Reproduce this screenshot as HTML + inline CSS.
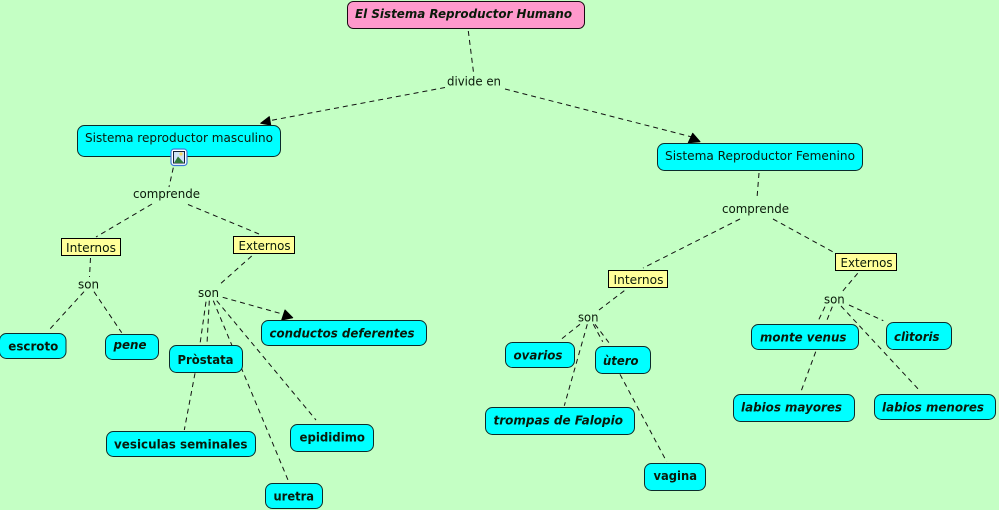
<!DOCTYPE html>
<html><head><meta charset="utf-8">
<style>
html,body{margin:0;padding:0;background:#c4ffc4;width:999px;height:510px;overflow:hidden}
svg{display:block}
text{font-family:"DejaVu Sans","Liberation Sans",sans-serif;font-size:12px;fill:#0a1a0a}
.b{font-weight:bold}
.i{font-weight:bold;font-style:italic}
.n{fill:#0ff;stroke:#0b2b2b;stroke-width:1}
.y{fill:#ffff99;stroke:#000;stroke-width:1}
.l{stroke:#111;stroke-width:1;stroke-dasharray:5 4;fill:none}
</style></head><body>
<svg width="999" height="510" viewBox="0 0 999 510" xmlns="http://www.w3.org/2000/svg">
<rect width="999" height="510" fill="#c4ffc4"/>
<!-- connectors -->
<g class="l">
<path d="M468.3 31L473.7 74"/>
<path d="M445 87.5L268 121"/>
<path d="M505 89L692 137"/>
<path d="M173.3 167.7L169 187"/>
<path d="M152 204L96 237"/>
<path d="M188 204.5L259 234"/>
<path d="M90.5 258L89.5 277"/>
<path d="M84 291.7L49 330"/>
<path d="M94 291.7L121.7 332.7"/>
<path d="M251.7 256L218.3 285.7"/>
<path d="M222.7 297.3L286 315"/>
<path d="M206 301.7L200 344"/>
<path d="M209.3 300.7L207 344"/>
<path d="M213.3 300.7L288.7 481.7"/>
<path d="M216.7 300.7L316 420"/>
<path d="M195 373.3L184.3 430"/>
<path d="M759 173L757 198"/>
<path d="M740 219L643 268"/>
<path d="M773 219L835 253"/>
<path d="M624.3 290.7L599 310"/>
<path d="M580 324.3L559.3 340.7"/>
<path d="M587.3 324.3L564.3 405.7"/>
<path d="M593.3 324.3L602.7 341.7"/>
<path d="M595 324.3L610.7 345"/>
<path d="M620 374.3L666.7 461.7"/>
<path d="M857.7 273.3L841.7 292.3"/>
<path d="M825 306.7L817.3 322.7"/>
<path d="M832.3 306.7L825.7 323.3"/>
<path d="M841 306L920.7 391.7"/>
<path d="M849 305L883.3 320.7"/>
<path d="M815.7 351.7L800.7 392.3"/>
</g>
<!-- arrowheads -->
<polygon points="260.7,123.3 269.3,116.7 270.7,125" fill="#000" stroke="#000" stroke-width="1" stroke-linejoin="round"/>
<polygon points="700,141.7 692.7,133.3 688.3,142.7" fill="#000" stroke="#000" stroke-width="1" stroke-linejoin="round"/>
<polygon points="281.7,320 285,310 292.7,317.7" fill="#000" stroke="#000" stroke-width="1" stroke-linejoin="round"/>
<!-- nodes -->
<rect x="347.5" y="1.5" width="237" height="27" rx="6" fill="#ff99cc" stroke="#1a0a12"/>
<text x="355" y="18" class="i" textLength="217" lengthAdjust="spacingAndGlyphs">El Sistema Reproductor Humano</text>

<rect class="n" x="77.5" y="125.5" width="203" height="31" rx="7"/>
<text x="85" y="142" textLength="188" lengthAdjust="spacingAndGlyphs">Sistema reproductor masculino</text>
<rect x="171" y="149" width="16" height="16.5" rx="3" fill="#fff" stroke="#3f78d8" stroke-width="1.2"/>
<rect x="173.5" y="151.5" width="11" height="11.5" fill="#cfe3f7" stroke="#12203a" stroke-width="1"/>
<circle cx="181" cy="154" r="1.6" fill="#f0d860"/>
<polygon points="174,163 178,156.5 184,163" fill="#2f7a3a"/>

<rect class="n" x="657.5" y="143.5" width="205" height="27" rx="7"/>
<text x="665" y="160" textLength="190" lengthAdjust="spacingAndGlyphs">Sistema Reproductor Femenino</text>

<rect class="y" x="61.5" y="238.5" width="59" height="17"/>
<text x="66" y="252" textLength="50" lengthAdjust="spacingAndGlyphs">Internos</text>
<rect class="y" x="233.5" y="236.5" width="61" height="17"/>
<text x="238.5" y="250" textLength="52" lengthAdjust="spacingAndGlyphs">Externos</text>
<rect class="y" x="608.5" y="270.5" width="59" height="17"/>
<text x="613.5" y="284" textLength="50" lengthAdjust="spacingAndGlyphs">Internos</text>
<rect class="y" x="835.5" y="253.5" width="61" height="17"/>
<text x="840.5" y="267" textLength="52" lengthAdjust="spacingAndGlyphs">Externos</text>

<rect class="n" x="-0.5" y="333.5" width="66.5" height="25" rx="7"/>
<text x="8.3" y="350.3" class="b" textLength="50" lengthAdjust="spacingAndGlyphs">escroto</text>
<rect class="n" x="105.5" y="334.5" width="53" height="25" rx="7"/>
<text x="113.5" y="349" class="i" textLength="33" lengthAdjust="spacingAndGlyphs">pene</text>
<rect class="n" x="169.5" y="345.5" width="73" height="27" rx="7"/>
<text x="177.5" y="364" class="b" textLength="56" lengthAdjust="spacingAndGlyphs">Pròstata</text>
<rect class="n" x="261.5" y="320.5" width="165" height="25" rx="7"/>
<text x="269.5" y="337.3" class="i" textLength="145" lengthAdjust="spacingAndGlyphs">conductos deferentes</text>
<rect class="n" x="106.5" y="431.5" width="149" height="25" rx="7"/>
<text x="114" y="448.3" class="b" textLength="133.5" lengthAdjust="spacingAndGlyphs">vesiculas seminales</text>
<rect class="n" x="290.5" y="424.5" width="83" height="27" rx="7"/>
<text x="299.5" y="441.3" class="b" textLength="65.5" lengthAdjust="spacingAndGlyphs">epididimo</text>
<rect class="n" x="265.5" y="483.5" width="57" height="25" rx="7"/>
<text x="273.5" y="500.7" class="b" textLength="40.5" lengthAdjust="spacingAndGlyphs">uretra</text>

<rect class="n" x="505.5" y="342.5" width="69" height="25" rx="7"/>
<text x="513.5" y="359.3" class="i" textLength="49" lengthAdjust="spacingAndGlyphs">ovarios</text>
<rect class="n" x="595.5" y="346.5" width="55" height="27" rx="7"/>
<text x="603" y="365" class="i" textLength="35.5" lengthAdjust="spacingAndGlyphs">ùtero</text>
<rect class="n" x="485.5" y="407.5" width="149" height="27" rx="7"/>
<text x="493.5" y="424.3" class="i" textLength="129.5" lengthAdjust="spacingAndGlyphs">trompas de Falopio</text>
<rect class="n" x="644.5" y="463.5" width="61" height="27" rx="7"/>
<text x="653.5" y="480" class="b" textLength="43.5" lengthAdjust="spacingAndGlyphs">vagina</text>
<rect class="n" x="751.5" y="324.5" width="107" height="25" rx="7"/>
<text x="760" y="341.7" class="i" textLength="86.5" lengthAdjust="spacingAndGlyphs">monte venus</text>
<rect class="n" x="886.5" y="322.5" width="65" height="27" rx="7"/>
<text x="894" y="341" class="i" textLength="45.5" lengthAdjust="spacingAndGlyphs">clìtoris</text>
<rect class="n" x="733.5" y="394.5" width="121" height="27" rx="7"/>
<text x="741" y="411.3" class="i" textLength="101" lengthAdjust="spacingAndGlyphs">labios mayores</text>
<rect class="n" x="874.5" y="394.5" width="121" height="25" rx="7"/>
<text x="882" y="411.3" class="i" textLength="102" lengthAdjust="spacingAndGlyphs">labios menores</text>

<!-- linking phrases -->
<text x="447" y="85.5" textLength="54" lengthAdjust="spacingAndGlyphs">divide en</text>
<text x="133" y="198" textLength="67" lengthAdjust="spacingAndGlyphs">comprende</text>
<text x="722" y="213" textLength="67" lengthAdjust="spacingAndGlyphs">comprende</text>
<text x="78" y="288.3" textLength="21" lengthAdjust="spacingAndGlyphs">son</text>
<text x="198" y="297" textLength="21" lengthAdjust="spacingAndGlyphs">son</text>
<text x="578" y="321.3" textLength="20.5" lengthAdjust="spacingAndGlyphs">son</text>
<text x="824" y="303.3" textLength="20.7" lengthAdjust="spacingAndGlyphs">son</text>
</svg>
</body></html>
